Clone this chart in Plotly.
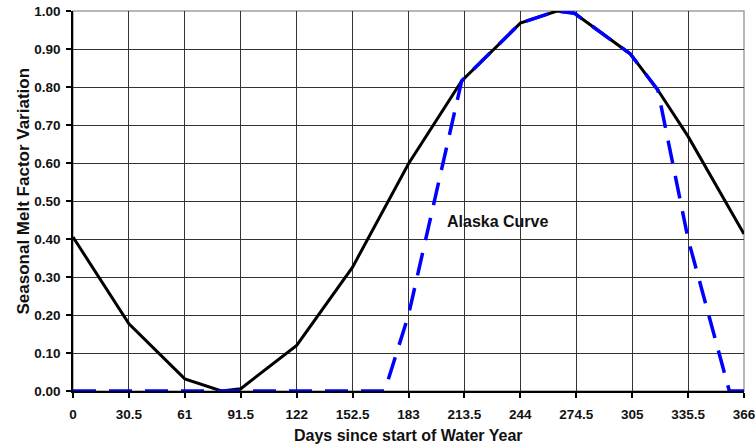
import plotly.graph_objects as go

# Data
x_tick_vals = [0, 30.5, 61, 91.5, 122, 152.5, 183, 213.5, 244, 274.5, 305, 335.5, 366]
x_tick_text = ["0", "30.5", "61", "91.5", "122", "152.5", "183", "213.5", "244", "274.5", "305", "335.5", "366"]
y_tick_vals = [0.0, 0.1, 0.2, 0.3, 0.4, 0.5, 0.6, 0.7, 0.8, 0.9, 1.0]

seasonal_days = [0, 30.5, 61, 81, 91.5, 122, 152.5, 183, 212, 244, 264, 273.5, 304, 319, 335.5, 366]
seasonal_vals = [0.405, 0.177, 0.032, 0.0, 0.006, 0.12, 0.326, 0.598, 0.816, 0.968, 1.0, 0.994, 0.887, 0.792, 0.67, 0.413]

alaska_days = [0, 170, 183, 212, 244, 264, 273.5, 304, 319, 335.5, 358, 366]
alaska_vals = [0.0, 0.0, 0.2, 0.816, 0.968, 1.0, 0.994, 0.887, 0.792, 0.4, 0.0, 0.0]

FONT = "Arial, 'Liberation Sans', sans-serif"

fig = go.Figure()
fig.add_trace(go.Scatter(
    x=seasonal_days, y=seasonal_vals, mode="lines",
    line=dict(color="black", width=3), showlegend=False, hoverinfo="skip"))
fig.add_trace(go.Scatter(
    x=alaska_days, y=alaska_vals, mode="lines",
    line=dict(color="#0000FF", width=3.5, dash="23px,13px"), showlegend=False, hoverinfo="skip"))

fig.add_annotation(x=231.5, y=0.445, text="<b>Alaska Curve</b>", showarrow=False,
                   font=dict(family=FONT, size=16, color="#111"), xanchor="center", yanchor="middle")
fig.add_annotation(xref="paper", yref="paper", x=0.5, y=-0.118, text="<b>Days since start of Water Year</b>",
                   showarrow=False, font=dict(family=FONT, size=16, color="#111"),
                   xanchor="center", yanchor="middle")
fig.add_annotation(xref="paper", yref="paper", x=-0.0745, y=0.525, text="<b>Seasonal Melt Factor Variation</b>",
                   showarrow=False, textangle=-90, font=dict(family=FONT, size=17, color="#111"),
                   xanchor="center", yanchor="middle")

fig.add_shape(type="rect", xref="paper", yref="paper", x0=0, y0=0, x1=1, y1=1,
              line=dict(color="#a0a0a0", width=1.5), layer="below")

fig.update_layout(
    width=756, height=448,
    margin=dict(l=73, r=12, t=11, b=57, autoexpand=False),
    paper_bgcolor="white", plot_bgcolor="white",
    font=dict(family=FONT, color="#111"),
)
fig.update_xaxes(
    range=[0, 366], tickmode="array", tickvals=x_tick_vals,
    ticktext=["<b>%s</b>" % t for t in x_tick_text],
    showgrid=True, gridcolor="#333333", gridwidth=1,
    showline=True, linecolor="black", linewidth=1.5,
    ticks="outside", ticklen=5, tickcolor="black", tickwidth=1.5,
    tickfont=dict(family=FONT, size=13.5, color="#111"),
    ticklabelstandoff=5, zeroline=False, automargin=False,
)
fig.update_yaxes(
    range=[0, 1], tickmode="array", tickvals=y_tick_vals,
    ticktext=["<b>%.2f</b>" % v for v in y_tick_vals],
    showgrid=True, gridcolor="#333333", gridwidth=1,
    showline=True, linecolor="black", linewidth=1.5,
    ticks="outside", ticklen=5, tickcolor="black", tickwidth=1.5,
    tickfont=dict(family=FONT, size=13.5, color="#111"),
    ticklabelstandoff=3, zeroline=False, automargin=False,
)

fig.write_html("out.html", config={"displayModeBar": False},
               post_script="document.body.style.margin='0px';")
